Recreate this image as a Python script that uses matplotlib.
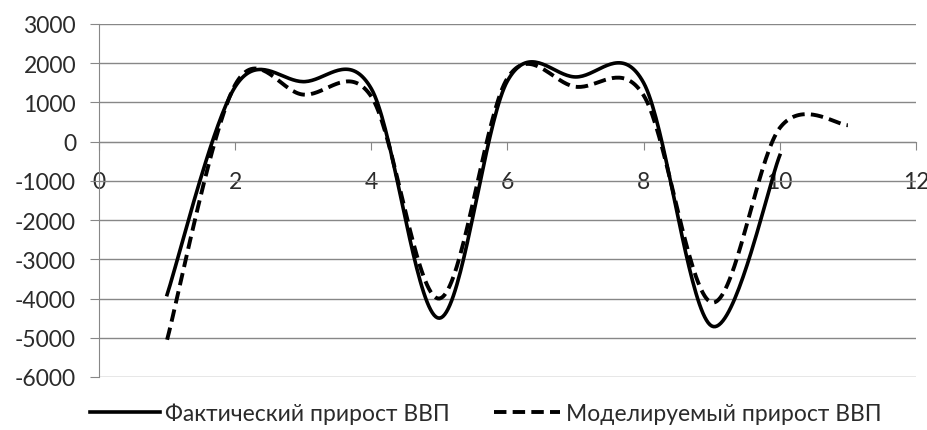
import matplotlib.pyplot as plt
import numpy as np

plt.rcParams['font.family'] = ['Lato', 'DejaVu Sans']
plt.rcParams['axes.unicode_minus'] = False

# data
x_fact = [1, 2, 3, 4, 5, 6, 7, 8, 9, 10]
y_fact = [-3900, 1400, 1530, 1350, -4500, 1550, 1650, 1500, -4700, -350]

x_model = [1, 2, 3, 4, 5, 6, 7, 8, 9, 10, 11]
y_model = [-5050, 1450, 1200, 1150, -4000, 1620, 1400, 1180, -4100, 350, 420]

x_ticks = [0, 2, 4, 6, 8, 10, 12]
y_ticks = [-6000, -5000, -4000, -3000, -2000, -1000, 0, 1000, 2000, 3000]

labels = ['Фактический прирост ВВП', 'Моделируемый прирост ВВП']


# excel-like smoothing: cubic bezier between points
def sglazhivanie(x, y, n=40):
    p = np.column_stack([x, y]).astype(float)
    ext = np.vstack([p[0], p, p[-1]])
    xs, ys = [], []
    t = np.linspace(0, 1, n)
    for i in range(len(p) - 1):
        p0 = ext[i + 1]
        p3 = ext[i + 2]
        c1 = p0 + (ext[i + 2] - ext[i]) / 6
        c2 = p3 - (ext[i + 3] - ext[i + 1]) / 6
        b = ((1 - t) ** 3)[:, None] * p0 + (3 * (1 - t) ** 2 * t)[:, None] * c1 \
            + (3 * (1 - t) * t ** 2)[:, None] * c2 + (t ** 3)[:, None] * p3
        xs.extend(b[:, 0])
        ys.extend(b[:, 1])
    return np.array(xs), np.array(ys)


cor_texto = '#2b2b2b'
cor_grade = '#878787'
tam = 16.5

fig = plt.figure(figsize=(9.28, 4.31), dpi=100)
ax = fig.add_axes([0.1067, 0.123, 0.8803, 0.819])

xf, yf = sglazhivanie(x_fact, y_fact)
xm, ym = sglazhivanie(x_model, y_model)
l1, = ax.plot(xf, yf, color='black', linewidth=2.6, label=labels[0], zorder=3)
l2, = ax.plot(xm, ym, color='black', linewidth=2.8, dashes=(3.2, 1.6), label=labels[1], zorder=4)

ax.set_xlim(0, 12)
ax.set_ylim(-6000, 3000)
ax.set_xticks(x_ticks)
ax.set_yticks(y_ticks)
ax.yaxis.grid(True, color=cor_grade, linewidth=1)
ax.set_axisbelow(True)

for s in ['top', 'right']:
    ax.spines[s].set_visible(False)
ax.spines['left'].set_color(cor_grade)
ax.spines['bottom'].set_color(cor_grade)
ax.spines['bottom'].set_position(('data', 0))

ax.tick_params(axis='y', colors=cor_grade, labelcolor=cor_texto, labelsize=tam, length=6.5, pad=10)
ax.tick_params(axis='x', colors=cor_grade, labelcolor=cor_texto, labelsize=tam, length=6, pad=15)

# legenda em duas partes
leg1 = fig.legend(handles=[l1], loc='lower left', bbox_to_anchor=(90 / 928, 0.015), frameon=False,
                  fontsize=tam, handlelength=3.05, handletextpad=0.22, borderpad=0, borderaxespad=0,
                  labelcolor=cor_texto)
leg2 = fig.legend(handles=[l2], loc='lower left', bbox_to_anchor=(494 / 928, 0.015), frameon=False,
                  fontsize=tam, handlelength=2.9, handletextpad=0.22, borderpad=0, borderaxespad=0,
                  labelcolor=cor_texto)

fig.savefig('out.png', dpi=100)
